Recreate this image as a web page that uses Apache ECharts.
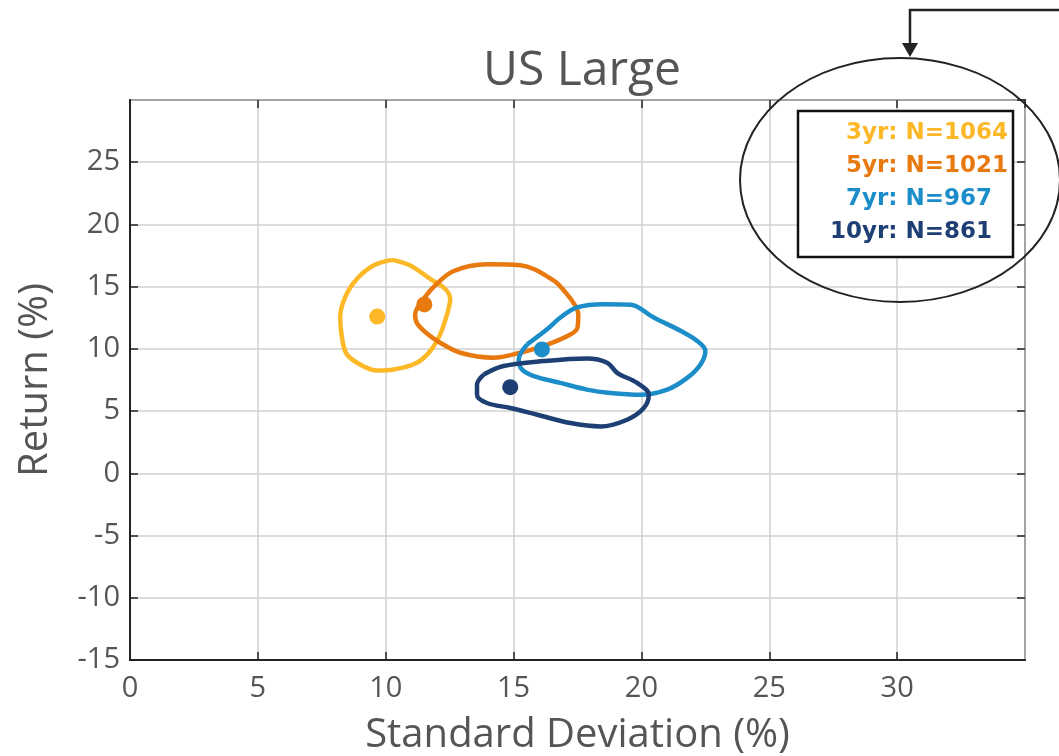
<html>
<head>
    <meta charset="utf-8">
    <script src="https://cdn.jsdelivr.net/npm/echarts@6/dist/echarts.min.js"></script>
    <title>US Large</title>
    <style>
        html, body { margin: 0; padding: 0; background: #fff; }
    </style>
</head>
<body>
    <div id="main" style="width: 1059px;height: 756px;"></div>
    <script>
        // contour outlines [std dev, return]
        const contour3yr = [[10.24, 17.15], [10.96, 16.70], [11.74, 15.62], [12.33, 14.81], [12.52, 14.0], [12.40, 12.79],
            [12.13, 11.17], [11.74, 9.83], [11.22, 8.89], [10.31, 8.34], [9.66, 8.26], [9.00, 8.75], [8.48, 9.56],
            [8.29, 10.90], [8.22, 12.52], [8.41, 14.14], [8.87, 15.61], [9.52, 16.70], [10.24, 17.15]];
        const contour5yr = [[11.35, 13.65], [11.86, 14.94], [12.64, 16.24], [13.97, 16.80], [15.26, 16.72], [16.56, 15.51],
            [17.03, 14.54], [17.38, 13.57], [17.53, 12.76], [17.50, 11.71], [17.22, 11.15], [16.32, 10.34], [15.26, 9.69],
            [14.21, 9.29], [12.92, 9.69], [12.13, 10.50], [11.66, 11.15], [11.23, 12.04], [11.15, 12.76], [11.35, 13.65]];
        const contour7yr = [[15.53, 10.36], [16.31, 11.58], [16.83, 12.52], [17.48, 13.33], [18.52, 13.59], [19.57, 13.55],
            [20.48, 12.52], [21.53, 11.45], [22.18, 10.64], [22.50, 9.83], [22.31, 8.75], [21.79, 7.67], [21.01, 6.73],
            [19.96, 6.32], [18.79, 6.46], [17.87, 6.73], [16.83, 7.27], [15.79, 7.81], [15.33, 8.34], [15.20, 9.15], [15.53, 10.36]];
        const contour10yr = [[13.83, 7.94], [14.61, 8.62], [16.18, 9.02], [17.87, 9.23], [18.66, 8.89], [19.05, 8.08],
            [19.83, 7.27], [20.29, 6.32], [20.09, 5.25], [19.44, 4.31], [18.40, 3.77], [17.22, 4.04], [15.92, 4.71],
            [14.87, 5.25], [13.96, 5.65], [13.57, 6.32], [13.57, 7.13], [13.83, 7.94]];

        // centre points
        const centres = [[9.67, 12.6], [11.51, 13.57], [16.11, 9.96], [14.87, 6.92]];

        const names = ['3yr: N=1064', '5yr: N=1021', '7yr: N=967', '10yr: N=861'];
        const colors = ['#FDB827', '#E8790E', '#1B8DC9', '#1E3F73'];
        const contours = [contour3yr, contour5yr, contour7yr, contour10yr];

        var myChart = echarts.init(document.getElementById('main'));

        const series = [];
        contours.forEach((c, i) => {
            series.push({
                name: names[i],
                type: 'line',
                data: c,
                smooth: 0.35,
                symbol: 'none',
                lineStyle: { color: colors[i], width: 4.5 },
                z: 3
            });
        });
        centres.forEach((p, i) => {
            series.push({
                name: names[i],
                type: 'scatter',
                data: [p],
                symbolSize: 16,
                itemStyle: { color: colors[i], opacity: 1 },
                z: 4
            });
        });

        const labelFont = 'Open Sans';
        const tickStyle = { show: true, inside: true, length: 8, lineStyle: { color: '#222', width: 1.5 } };

        const legendX = [846, 846, 846, 830];
        const legendY = [136, 169, 202, 235];

        myChart.setOption({
            backgroundColor: '#FFFFFF',
            animation: false,
            title: {
                text: 'US Large',
                left: 577,
                top: 42,
                textAlign: 'center',
                textStyle: { fontFamily: labelFont, fontSize: 48, fontWeight: 'normal', color: '#555' }
            },
            grid: {
                left: 130, right: 34, top: 100, bottom: 96,
                outerBoundsMode: 'none', containLabel: false,
                show: true, borderColor: '#222', borderWidth: 2, backgroundColor: 'transparent'
            },
            xAxis: [{
                type: 'value', min: 0, max: 35, interval: 5,
                name: 'Standard Deviation (%)', nameLocation: 'middle', nameGap: 56,
                nameTextStyle: { fontFamily: labelFont, fontSize: 40, color: '#555' },
                axisLine: { show: true, onZero: false, lineStyle: { color: '#222', width: 2 } },
                axisTick: tickStyle,
                axisLabel: { fontFamily: labelFont, fontSize: 29, color: '#555', margin: 14, showMaxLabel: false },
                splitLine: { show: true, lineStyle: { color: '#d0d0d0', width: 1.5 } }
            }, {
                type: 'value', min: 0, max: 35, interval: 5, position: 'top',
                axisLine: { show: false, onZero: false },
                axisTick: tickStyle,
                axisLabel: { show: false },
                splitLine: { show: false }
            }],
            yAxis: [{
                type: 'value', min: -15, max: 30, interval: 5,
                name: 'Return (%)', nameLocation: 'middle', nameGap: 74, nameRotate: 90,
                nameTextStyle: { fontFamily: labelFont, fontSize: 40, color: '#555' },
                axisLine: { show: true, onZero: false, lineStyle: { color: '#222', width: 2 } },
                axisTick: tickStyle,
                axisLabel: { fontFamily: labelFont, fontSize: 29, color: '#555', margin: 10, showMaxLabel: false },
                splitLine: { show: true, lineStyle: { color: '#d0d0d0', width: 1.5 } }
            }, {
                type: 'value', min: -15, max: 30, interval: 5, position: 'right',
                axisLine: { show: false, onZero: false },
                axisTick: tickStyle,
                axisLabel: { show: false },
                splitLine: { show: false }
            }],
            graphic: [
                {
                    type: 'rect', z: 10,
                    shape: { x: 798, y: 111, width: 215, height: 146 },
                    style: { fill: '#fff', stroke: '#111', lineWidth: 2.5 }
                },
                ...names.map((n, i) => ({
                    type: 'text', z: 11,
                    left: legendX[i], top: legendY[i] - 14,
                    style: {
                        text: n, fill: colors[i],
                        font: 'bold 23px "DejaVu Sans"'
                    }
                })),
                {
                    type: 'ellipse', z: 12,
                    shape: { cx: 900, cy: 180, rx: 160, ry: 122 },
                    style: { fill: 'none', stroke: '#222', lineWidth: 2 }
                },
                {
                    type: 'polyline', z: 12,
                    shape: { points: [[1059, 10], [910, 10], [910, 44]] },
                    style: { stroke: '#222', lineWidth: 2.5, fill: null }
                },
                {
                    type: 'polygon', z: 12,
                    shape: { points: [[902, 43], [918, 43], [910, 57]] },
                    style: { fill: '#222' }
                }
            ],
            series: series
        });
    </script>
</body>
</html>
